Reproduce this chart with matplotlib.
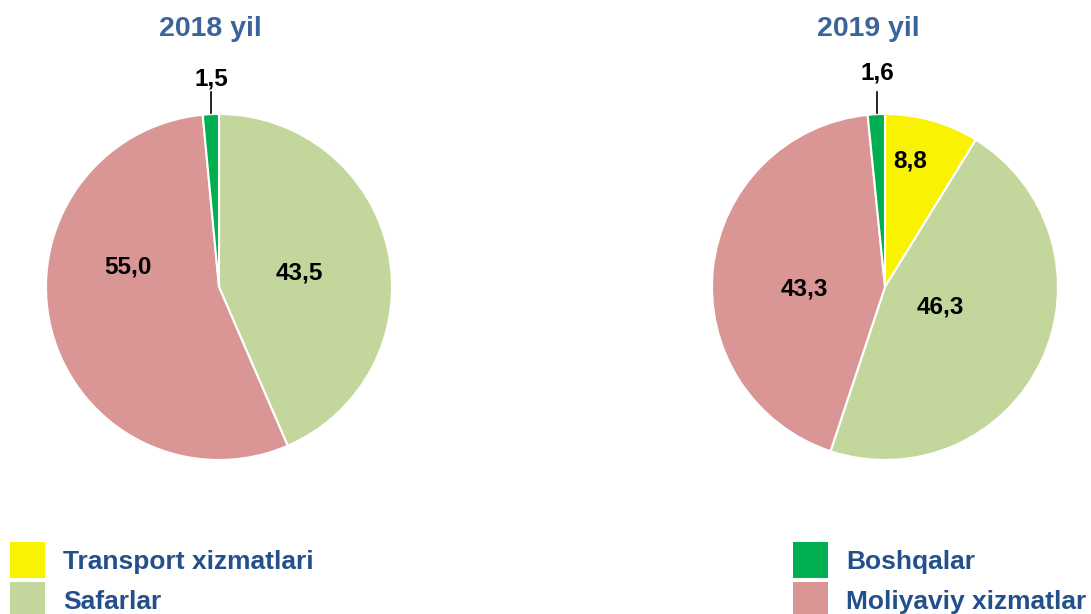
import matplotlib.pyplot as plt
from matplotlib.patches import Patch

plt.rcParams['font.family'] = ['Liberation Sans', 'DejaVu Sans']
plt.rcParams['font.weight'] = 'bold'

# data
categories = ['Transport xizmatlari', 'Safarlar', 'Moliyaviy xizmatlar', 'Boshqalar']
years = ['2018 yil', '2019 yil']
values_2018 = [0.0, 43.5, 55.0, 1.5]
values_2019 = [8.8, 46.3, 43.3, 1.6]
colors = ['#F9F200', '#C3D69B', '#D99694', '#00B050']

# label positions in pie units (x, y), one per category
label_pos_2018 = [None, (0.462, 0.081), (-0.526, 0.116), (-0.046, 1.205)]
label_pos_2019 = [(0.145, 0.728), (0.318, -0.116), (-0.468, -0.012), (-0.046, 1.239)]

W, H = 1091, 614
fig = plt.figure(figsize=(W / 100, H / 100), dpi=100)
fig.patch.set_facecolor('white')

R = 173
def pie_axes(cx, cy):
    return fig.add_axes([(cx - R) / W, (H - cy - R) / H, 2 * R / W, 2 * R / H])

def fmt(v):
    return f'{v:.1f}'.replace('.', ',')

def draw_pie(ax, vals, label_pos):
    ax.pie(vals, colors=colors, startangle=90, counterclock=False, radius=1,
           wedgeprops=dict(edgecolor='white', linewidth=1.5))
    ax.set_xlim(-1, 1)
    ax.set_ylim(-1, 1)
    ax.set_aspect('auto')
    ax.axis('off')
    for v, pos in zip(vals, label_pos):
        if pos is None or v == 0:
            continue
        x, y = pos
        ax.text(x, y, fmt(v), ha='center', va='center', fontsize=17.5,
                fontweight='bold', color='black', clip_on=False)
        if y > 1.0:
            # leader line for the thin slice
            ax.plot([x, x], [1.006, 1.127], color='black', lw=1.2, clip_on=False)

ax1 = pie_axes(219, 287)
draw_pie(ax1, values_2018, label_pos_2018)
ax2 = pie_axes(885, 287)
draw_pie(ax2, values_2019, label_pos_2019)

title_color = '#3A649A'
fig.text(210 / W, 1 - 29 / H, years[0], ha='center', va='center', fontsize=20.5,
         fontweight='bold', color=title_color)
fig.text(868 / W, 1 - 29 / H, years[1], ha='center', va='center', fontsize=20.5,
         fontweight='bold', color=title_color)

# legends
handles = [Patch(facecolor=c, edgecolor='none', label=l) for c, l in zip(colors, categories)]
leg_kw = dict(frameon=False, handlelength=1.33, handleheight=1.72,
              handletextpad=0.68, labelspacing=0.17, borderpad=0, borderaxespad=0,
              prop=dict(family=['Liberation Sans', 'DejaVu Sans'], weight='bold', size=19))
legL = fig.legend(handles=[handles[0], handles[1]], loc='upper left',
                  bbox_to_anchor=(10 / W, 1 - 542 / H), **leg_kw)
legR = fig.legend(handles=[handles[3], handles[2]], loc='upper left',
                  bbox_to_anchor=(793 / W, 1 - 542 / H), **leg_kw)
for leg in (legL, legR):
    for t in leg.get_texts():
        t.set_color('#23508A')

fig.savefig('out.png', dpi=100, facecolor='white')
